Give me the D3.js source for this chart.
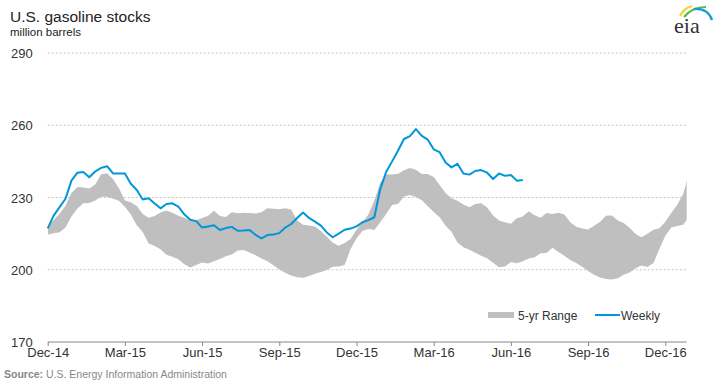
<!DOCTYPE html>
<html>
<head>
<meta charset="utf-8">
<script src="https://cdn.jsdelivr.net/npm/d3@7"></script>
<style>
  body { margin: 0; background: #fff; }
  svg { display: block; font-family: "Liberation Sans", Arial, sans-serif; }
</style>
</head>
<body>
<svg id="chart" width="719" height="384"></svg>
<script>
// chart values
const firstWeek = "2014-12-05";   // weekly, Fridays

const weekly = [
  217.2, 222.5, 226.0, 229.5, 237.0, 240.3, 240.6, 238.4, 240.8, 242.3,
  243.0, 240.0, 240.0, 240.0, 235.7, 233.1, 229.2, 229.7, 227.5, 225.5,
  227.3, 227.6, 226.2, 223.0, 220.8, 220.2, 217.5, 218.0, 218.5, 216.5,
  217.3, 217.8, 216.2, 216.3, 216.5, 214.5, 213.0, 214.4, 214.6, 215.2,
  217.5, 219.0, 221.5, 223.8, 221.5, 220.0, 218.3, 215.5, 213.5, 215.0,
  216.6, 217.1, 218.0, 219.7, 220.6, 221.8, 233.5, 240.7, 245.0, 249.5,
  254.3, 255.5, 258.4, 255.6, 254.0, 250.0, 248.8, 244.5, 242.5, 244.0,
  240.0, 239.5, 241.0, 241.4, 240.3, 237.7, 240.0, 239.0, 239.3, 237.0,
  237.3
];

const rangeHigh = [
  217.9, 220.7, 223.3, 226.6, 231.9, 234.4, 234.2, 233.7, 235.4, 239.7,
  240.1, 237.7, 233.8, 228.8, 228.0, 226.5, 223.1, 221.6, 222.3, 223.8,
  224.6, 223.7, 222.4, 221.6, 220.6, 220.6, 221.5, 222.4, 224.5, 222.3,
  221.9, 223.9, 223.5, 223.7, 223.6, 223.4, 223.9, 225.5, 225.3, 225.1,
  225.5, 225.0, 220.5, 218.7, 218.4, 218.0, 216.1, 213.7, 211.2, 210.0,
  211.1, 212.8, 216.6, 219.6, 222.9, 228.8, 236.1, 239.7, 239.5, 239.9,
  241.3, 242.2, 241.5, 239.8, 239.8, 238.5, 235.2, 231.9, 229.7, 228.7,
  227.1, 225.9, 227.3, 227.6, 225.8, 222.5, 220.5, 219.7, 219.1, 221.4,
  222.1, 224.3, 222.6, 221.6, 223.6, 223.1, 223.7, 222.9, 219.7, 217.9,
  217.1, 216.7, 218.3, 219.8, 222.4, 222.5, 220.5, 219.4, 217.3, 214.8,
  213.5, 215.0, 216.6, 217.2, 219.9, 223.6, 226.9, 231.4, 240.2
];

const rangeLow = [
  214.5, 215.2, 215.6, 217.5, 222.1, 225.4, 227.6, 227.7, 228.8, 230.3,
  230.3, 229.5, 228.7, 226.2, 222.9, 218.5, 215.7, 210.9, 209.9, 208.5,
  206.2, 205.4, 204.4, 202.3, 200.9, 202.0, 203.0, 202.6, 203.5, 204.5,
  205.6, 206.3, 208.0, 208.2, 207.2, 206.0, 204.7, 203.5, 201.9, 200.1,
  198.8, 197.6, 196.9, 196.7, 197.4, 198.3, 199.1, 199.9, 201.2, 201.4,
  202.0, 208.6, 213.0, 216.1, 216.9, 216.5, 219.7, 223.1, 226.9, 227.3,
  230.4, 231.0, 230.2, 228.9, 226.4, 224.0, 221.8, 218.3, 215.8, 211.3,
  209.3, 208.3, 207.1, 205.8, 204.8, 202.9, 201.0, 201.3, 203.2, 202.7,
  203.5, 204.7, 205.2, 206.9, 207.0, 209.1, 207.4, 205.8, 204.0, 202.8,
  201.2, 199.5, 197.9, 196.8, 196.2, 195.9, 196.5, 197.9, 198.9, 200.6,
  201.8, 201.1, 202.8, 208.6, 214.1, 217.5, 218.2, 218.7, 221.9
];

const yTicks = [170, 200, 230, 260, 290];
const xTickDates = ["2014-12-05", "2015-03-06", "2015-06-05", "2015-09-04", "2015-12-04",
                    "2016-03-04", "2016-06-03", "2016-09-02", "2016-12-02"];
const xTickLabels = ["Dec-14", "Mar-15", "Jun-15", "Sep-15", "Dec-15",
                     "Mar-16", "Jun-16", "Sep-16", "Dec-16"];

// layout
const LEFT = 47.7;
const RIGHT = 686.7;
const TOP = 53;
const BOTTOM = 342;

const parse = d3.utcParse("%Y-%m-%d");
const start = parse(firstWeek);
const weekDate = i => d3.utcDay.offset(start, 7 * i);

const svg = d3.select("#chart");

const x = d3.scaleUtc()
    .domain([start, parse("2016-12-02")])
    .range([LEFT, 665.3]);

const y = d3.scaleLinear()
    .domain([170, 290])
    .range([BOTTOM, TOP]);

svg.append("defs").append("clipPath")
    .attr("id", "plot-clip")
  .append("rect")
    .attr("x", LEFT)
    .attr("y", 0)
    .attr("width", RIGHT - LEFT)
    .attr("height", 384);

// dotted gridlines
svg.append("g")
    .selectAll("line")
    .data(yTicks.filter(d => d !== 170))
    .enter()
    .append("line")
    .attr("x1", LEFT)
    .attr("x2", RIGHT)
    .attr("y1", d => y(d))
    .attr("y2", d => y(d))
    .attr("stroke", "#c4c4c4")
    .attr("stroke-width", 1)
    .attr("stroke-dasharray", "2,2");

// 5-yr range band
const bandData = rangeHigh.map((h, i) => ({ date: weekDate(i), high: h, low: rangeLow[i] }));

const area = d3.area()
    .x(d => x(d.date))
    .y0(d => y(d.low))
    .y1(d => y(d.high));

svg.append("path")
    .datum(bandData)
    .attr("clip-path", "url(#plot-clip)")
    .attr("d", area)
    .attr("fill", "#bfbfbf");

// weekly line
const weeklyData = weekly.map((v, i) => ({ date: weekDate(i), value: v }));

const line = d3.line()
    .x(d => x(d.date))
    .y(d => y(d.value));

svg.append("path")
    .datum(weeklyData)
    .attr("d", line)
    .attr("fill", "none")
    .attr("stroke", "#0096d7")
    .attr("stroke-width", 2)
    .attr("stroke-linejoin", "round");

// y labels
svg.append("g")
    .selectAll("text")
    .data(yTicks)
    .enter()
    .append("text")
    .attr("x", 11)
    .attr("y", d => y(d) + 5)
    .attr("font-size", 13)
    .attr("fill", "#333")
    .text(d => d);

// x axis
const xAxis = d3.axisBottom(x)
    .tickValues(xTickDates.map(parse))
    .tickFormat((d, i) => xTickLabels[i])
    .tickSize(4)
    .tickSizeOuter(0);

const gx = svg.append("g")
    .attr("transform", `translate(0,${BOTTOM})`)
    .call(xAxis);

gx.select(".domain")
    .attr("d", `M${LEFT},0H${RIGHT}`)
    .attr("stroke", "#888");
gx.selectAll(".tick line").attr("stroke", "#888");
gx.selectAll(".tick text")
    .attr("font-family", "Liberation Sans, Arial, sans-serif")
    .attr("font-size", 13)
    .attr("fill", "#333")
    .attr("dy", "0.75em")
    .attr("y", 5);

// title
svg.append("text")
    .attr("x", 10)
    .attr("y", 22)
    .attr("font-size", 15.5)
    .attr("fill", "#222")
    .text("U.S. gasoline stocks");

svg.append("text")
    .attr("x", 10)
    .attr("y", 36)
    .attr("font-size", 11.5)
    .attr("fill", "#222")
    .text("million barrels");

// source
const src = svg.append("text")
    .attr("x", 4)
    .attr("y", 378)
    .attr("font-size", 10.5)
    .attr("fill", "#888");
src.append("tspan").attr("font-weight", "bold").text("Source:");
src.append("tspan").text(" U.S. Energy Information Administration");

// legend
const legend = svg.append("g").attr("transform", "translate(488,315)");
legend.append("rect")
    .attr("x", 0)
    .attr("y", -3)
    .attr("width", 26)
    .attr("height", 6)
    .attr("fill", "#bfbfbf");
legend.append("text")
    .attr("x", 30)
    .attr("y", 4.5)
    .attr("font-size", 12)
    .attr("fill", "#333")
    .text("5-yr Range");
legend.append("line")
    .attr("x1", 107)
    .attr("x2", 132)
    .attr("y1", 0)
    .attr("y2", 0)
    .attr("stroke", "#0096d7")
    .attr("stroke-width", 2);
legend.append("text")
    .attr("x", 133)
    .attr("y", 4.5)
    .attr("font-size", 12)
    .attr("fill", "#333")
    .text("Weekly");

// eia logo
const logo = svg.append("g");
logo.append("path")
    .attr("d", "M680,16 Q684,8 692,6")
    .attr("fill", "none").attr("stroke", "#f3d32c").attr("stroke-width", 2.2);
logo.append("path")
    .attr("d", "M684,17 Q692,7 706,7")
    .attr("fill", "none").attr("stroke", "#5cb947").attr("stroke-width", 2.2);
logo.append("path")
    .attr("d", "M694,9 Q708,8 712,20")
    .attr("fill", "none").attr("stroke", "#1c9ad6").attr("stroke-width", 2.4);
logo.append("text")
    .attr("x", 674)
    .attr("y", 33)
    .attr("font-family", "Liberation Serif, DejaVu Serif, serif")
    .attr("font-size", 22)
    .attr("fill", "#333")
    .text("eia");
</script>
</body>
</html>
